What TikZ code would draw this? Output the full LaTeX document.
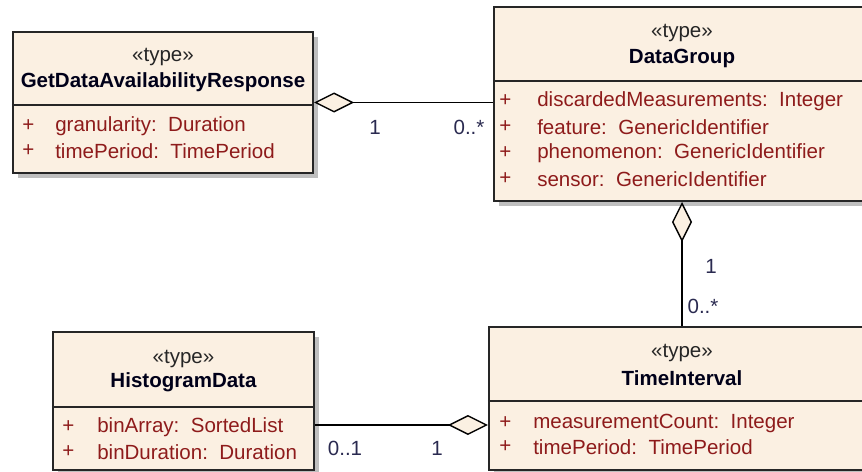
\documentclass[tikz,border=0pt]{standalone}
\usepackage{fontspec}
\setmainfont{Liberation Sans}
\usetikzlibrary{arrows.meta,shadows}
\definecolor{umlfill}{HTML}{FBF0E2}
\definecolor{umlattr}{HTML}{8E1B1B}
\definecolor{umlmult}{HTML}{2A2A50}
\tikzset{
  umlclass/.style={draw=black!85, line width=1.4pt, fill=umlfill, inner sep=0pt,
    drop shadow={shadow xshift=0.12cm, shadow yshift=-0.12cm, fill=black!25, opacity=1}},
  stereo/.style={font=\fontsize{14.6}{16}\selectfont, text=black!85},
  cname/.style={font=\fontsize{14.6}{16}\selectfont\bfseries, text=black!90!blue},
  attr/.style={font=\fontsize{14.6}{16}\selectfont, text=umlattr, anchor=west, inner sep=0pt},
  mult/.style={font=\fontsize{14.6}{16}\selectfont, text=umlmult, inner sep=0pt},
  aggr/.style={line width=1pt, {Diamond[length=1cm,width=0.5cm,fill=umlfill]}-},
}

\begin{document}
\begin{tikzpicture}[x=0.025cm, y=-0.025cm]
\useasboundingbox (0,0) rectangle (862,472);
\node[umlclass, minimum width=7.5cm, minimum height=3.525cm] (gdar) at (163,102.5) {}; % Class.GetDataAvailabilityResponse
\draw[line width=1.4pt, black!85] (gdar.west |- 0,105) -- (gdar.east |- 0,105);
\node[stereo] (gdar-st) at (163,57) {«type»};
\node[cname] (gdar-nm) at (163,82) {GetDataAvailabilityResponse};
\node[attr] (gdar-p1) at (22,126) {+};
\node[attr] (gdar-a1) at (55,126) {granularity:\ \ Duration};
\node[attr] (gdar-p2) at (22,151) {+};
\node[attr] (gdar-a2) at (55,151) {timePeriod:\ \ TimePeriod};
\node[umlclass, minimum width=9.4cm, minimum height=4.85cm] (dg) at (682,104) {}; % Class.DataGroup
\draw[line width=1.4pt, black!85] (dg.west |- 0,81) -- (dg.east |- 0,81);
\node[stereo] (dg-st) at (682,33) {«type»};
\node[cname] (dg-nm) at (682,58) {DataGroup};
\node[attr] (dg-p1) at (499,101) {+};
\node[attr] (dg-a1) at (537,101) {discardedMeasurements:\ \ Integer};
\node[attr] (dg-p2) at (499,127) {+};
\node[attr] (dg-a2) at (537,127) {feature:\ \ GenericIdentifier};
\node[attr] (dg-p3) at (499,153) {+};
\node[attr] (dg-a3) at (537,153) {phenomenon:\ \ GenericIdentifier};
\node[attr] (dg-p4) at (499,179) {+};
\node[attr] (dg-a4) at (537,179) {sensor:\ \ GenericIdentifier};
\node[umlclass, minimum width=6.525cm, minimum height=3.45cm] (hd) at (183.5,401) {}; % Class.HistogramData
\draw[line width=1.4pt, black!85] (hd.west |- 0,407) -- (hd.east |- 0,407);
\node[stereo] (hd-st) at (183.5,359) {«type»};
\node[cname] (hd-nm) at (183.5,382) {HistogramData};
\node[attr] (hd-p1) at (62,427) {+};
\node[attr] (hd-a1) at (97,427) {binArray:\ \ SortedList};
\node[attr] (hd-p2) at (62,452) {+};
\node[attr] (hd-a2) at (97,452) {binDuration:\ \ Duration};
\node[umlclass, minimum width=9.65cm, minimum height=3.575cm] (ti) at (682,398.5) {}; % Class.TimeInterval
\draw[line width=1.4pt, black!85] (ti.west |- 0,401) -- (ti.east |- 0,401);
\node[stereo] (ti-st) at (682,353) {«type»};
\node[cname] (ti-nm) at (682,378) {TimeInterval};
\node[attr] (ti-p1) at (499,423) {+};
\node[attr] (ti-a1) at (533,423) {measurementCount:\ \ Integer};
\node[attr] (ti-p2) at (499,447) {+};
\node[attr] (ti-a2) at (533,447) {timePeriod:\ \ TimePeriod};
\draw[aggr] (gdar.east) -- (gdar.east -| dg.west); % Assoc.response
\node[mult] (m-gdar) at (375,127) {1};
\node[mult] (m-dg) at (469,127) {0..*};
\draw[aggr] (dg.south) -- (ti.north); % Assoc.group
\node[mult] (m-dg2) at (711,266) {1};
\node[mult] (m-ti) at (703,306) {0..*};
\coordinate (hd-out) at ([yshift=-0.6cm]hd.east);
\draw[aggr] (hd-out -| ti.west) -- (hd-out); % Assoc.histogram
\node[mult] (m-hd) at (345,448) {0..1};
\node[mult] (m-ti2) at (437,448) {1};
\end{tikzpicture}
\end{document}
